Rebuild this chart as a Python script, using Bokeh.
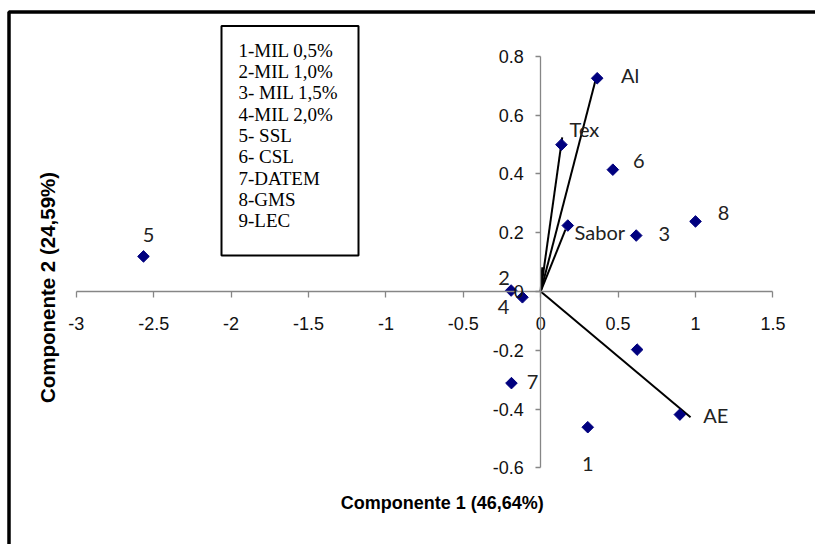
import math
from bokeh.plotting import figure
from bokeh.models import Range1d, FixedTicker, BoxAnnotation, Label, ColumnDataSource
from bokeh.core.properties import value
from bokeh.embed import file_html
from bokeh.resources import INLINE

# ---------------- data ----------------
point_names = ["1", "2", "3", "4", "5", "6", "7", "8", "9"]
point_x = [0.304, -0.191, 0.617, -0.118, -2.566, 0.466, -0.189, 1.000, 0.623]
point_y = [-0.462, 0.003, 0.190, -0.020, 0.119, 0.414, -0.312, 0.238, -0.198]
point_labels = ["1", "2", "3", "4", "5", "6", "7", "8", ""]

var_names = ["Al", "Tex", "Sabor", "AE"]
var_x = [0.365, 0.134, 0.175, 0.899]
var_y = [0.725, 0.499, 0.224, -0.419]

vec_x = [0.365, 0.139, 0.160, 0.968, 0.010]
vec_y = [0.740, 0.524, 0.210, -0.428, 0.082]

legend_lines = ["1-MIL 0,5%", "2-MIL 1,0%", "3- MIL 1,5%", "4-MIL 2,0%",
                "5- SSL", "6- CSL", "7-DATEM", "8-GMS", "9-LEC"]

x_ticks = [-3, -2.5, -2, -1.5, -1, -0.5, 0, 0.5, 1, 1.5]
x_tick_labels = ["-3", "-2.5", "-2", "-1.5", "-1", "-0.5", "0", "0.5", "1", "1.5"]
y_ticks = [-0.6, -0.4, -0.2, 0, 0.2, 0.4, 0.6, 0.8]
y_tick_labels = ["-0.6", "-0.4", "-0.2", "0", "0.2", "0.4", "0.6", "0.8"]

x_title = "Componente 1 (46,64%)"
y_title = "Componente 2 (24,59%)"

# label offsets in screen pixels (style)
point_dx = [0, -7, 28, -19, 5, 26, 21, 28, 0]
point_dy = [37, -13, -2, 10, -21, -9, -1, -8, 0]
var_dx = [33, 23, 32, 36]
var_dy = [-3, -16, 6, 0]

# ---------------- layout ----------------
W, H = 815, 544
X0PX, XSC = 540.2, 154.8
Y0PX, YSC = 290.9, 294.0


def px2x(px):
    return (px - X0PX) / XSC


def px2y(py):
    return (Y0PX - py) / YSC


p = figure(width=W, height=H, x_range=Range1d(px2x(0), px2x(W)),
           y_range=Range1d(px2y(H), px2y(0)), min_border=0,
           toolbar_location=None, output_backend="svg")
p.outline_line_color = None
p.xgrid.visible = False
p.ygrid.visible = False
p.background_fill_color = "white"
p.border_fill_color = "white"

AXIS_COLOR = "#868686"
for ax, ticks, labels, bounds in ((p.xaxis[0], x_ticks, x_tick_labels, (-3, 1.5)),
                                  (p.yaxis[0], y_ticks, y_tick_labels, (-0.6, 0.8))):
    ax.fixed_location = 0
    ax.bounds = bounds
    ax.ticker = FixedTicker(ticks=ticks)
    ax.major_label_overrides = {t: l for t, l in zip(ticks, labels)}
    ax.minor_tick_line_color = None
    ax.axis_line_color = AXIS_COLOR
    ax.axis_line_width = 1.3
    ax.major_tick_line_color = AXIS_COLOR
    ax.major_tick_line_width = 1.3
    ax.major_tick_in = 0
    ax.major_label_text_font = "Liberation Sans"
    ax.major_label_text_font_size = "18px"
    ax.major_label_text_color = "#111111"

p.xaxis.major_tick_out = 6
p.xaxis.major_label_standoff = 20
p.yaxis.major_tick_out = 5
p.yaxis.major_label_standoff = 12

# outer frame
p.add_layout(BoxAnnotation(left=px2x(8.5), top=px2y(11.5), right=px2x(840), bottom=px2y(570),
                           fill_alpha=0, line_color="black", line_alpha=1, line_width=3.5))

# vectors
p.segment(x0=0, y0=0, x1=vec_x, y1=vec_y, line_color="black", line_width=2)

# points
psrc = ColumnDataSource(dict(x=point_x, y=point_y, label=point_labels, dx=point_dx, dy=point_dy))
vsrc = ColumnDataSource(dict(x=var_x, y=var_y, label=var_names, dx=var_dx, dy=var_dy))
for src in (psrc, vsrc):
    p.scatter("x", "y", source=src, marker="square", size=8.2, angle=math.pi / 4,
              fill_color="#00007F", line_color="#00007F")
    p.text("x", "y", text="label", source=src, x_offset="dx", y_offset="dy",
           text_font=value("Lato"), text_font_size="20px", text_color="#222222",
           text_align="center", text_baseline="middle")

# legend box
p.add_layout(BoxAnnotation(left=px2x(221), right=px2x(358), top=px2y(25.5), bottom=px2y(255),
                           fill_alpha=0, line_color="black", line_alpha=1, line_width=2))
lsrc = ColumnDataSource(dict(x=[px2x(238)] * len(legend_lines),
                             y=[px2y(49.8 + i * 21.3) for i in range(len(legend_lines))],
                             text=legend_lines))
p.text("x", "y", text="text", source=lsrc, text_font=value("Liberation Serif"),
       text_font_size="19px", text_color="black", text_align="left", text_baseline="middle")

# axis titles
p.add_layout(Label(x=px2x(441.7), y=px2y(502.5), text=x_title, text_align="center",
                   text_baseline="middle", text_font="Liberation Sans", text_font_style="bold",
                   text_font_size="18px", text_color="black"))
p.add_layout(Label(x=px2x(47), y=px2y(287), text=y_title, text_align="center",
                   text_baseline="middle", text_font="Liberation Sans", text_font_style="bold",
                   text_font_size="20.5px", text_color="black", angle=math.pi / 2))

open("out.html", "w").write(file_html(p, INLINE))
